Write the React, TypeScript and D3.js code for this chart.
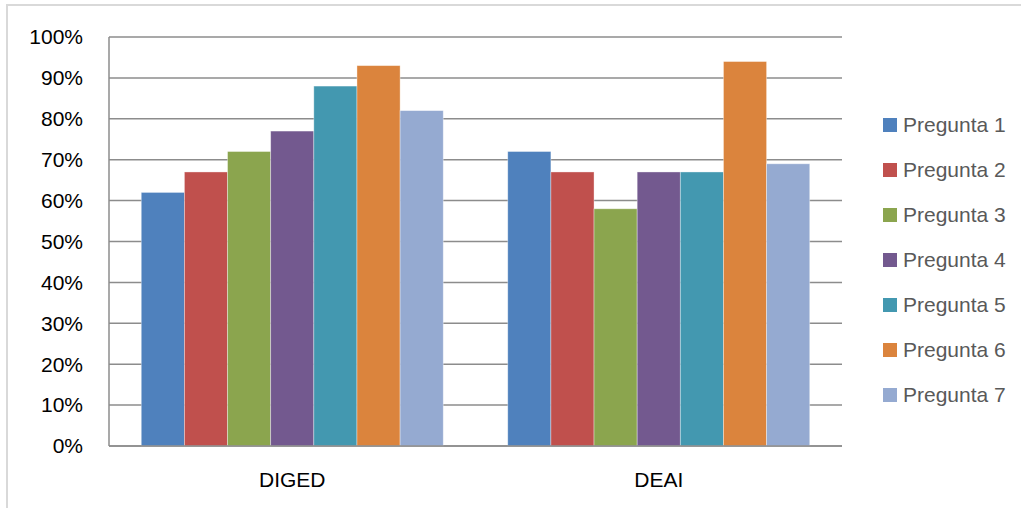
import React from "react";
import * as d3 from "d3";

const categories = ["DIGED", "DEAI"];
const seriesNames = ["Pregunta 1", "Pregunta 2", "Pregunta 3", "Pregunta 4", "Pregunta 5", "Pregunta 6", "Pregunta 7"];
const digedValues = [0.62, 0.67, 0.72, 0.77, 0.88, 0.93, 0.82];
const deaiValues = [0.72, 0.67, 0.58, 0.67, 0.67, 0.94, 0.69];
const yTicks = [0, 0.1, 0.2, 0.3, 0.4, 0.5, 0.6, 0.7, 0.8, 0.9, 1.0];
const colors = ["#4F81BD", "#C0504D", "#8BA54E", "#73598F", "#4398B0", "#DB843D", "#95AAD1"];

const W = 1021;
const H = 508;
const plot = { left: 109, right: 842, top: 37, bottom: 446 };
const FONT = "'Liberation Sans', Arial, sans-serif";

export default function App() {
  const valuesByCat: Record<string, number[]> = { DIGED: digedValues, DEAI: deaiValues };
  const x0 = d3.scaleBand<string>().domain(categories).range([plot.left, plot.right]).paddingInner(0.176).paddingOuter(0.088);
  const x1 = d3.scaleBand<string>().domain(seriesNames).range([0, x0.bandwidth()]).padding(0);
  const y = d3.scaleLinear().domain([0, 1]).range([plot.bottom, plot.top]);
  const fmt = d3.format(".0%");

  return (
    <svg width={W} height={H} style={{ position: "absolute", left: 0, top: 0, background: "#fff" }}>
      <rect x={7} y={5} width={W} height={H} fill="#fff" stroke="#d9d9d9" strokeWidth={2} />
      {yTicks.map((t) => (
        <line key={"g" + t} x1={plot.left} x2={plot.right} y1={y(t)} y2={y(t)} stroke="#8c8c8c" strokeWidth={1.5} />
      ))}
      {categories.map((c) => (
        <g key={c} transform={`translate(${x0(c)},0)`}>
          {seriesNames.map((s, i) => {
            const v = valuesByCat[c][i];
            return (
              <rect key={s} x={x1(s)} y={y(v)} width={x1.bandwidth()} height={y(0) - y(v)} fill={colors[i]} stroke="rgba(255,255,255,0.45)" strokeWidth={0.8} />
            );
          })}
        </g>
      ))}
      <line x1={plot.left} x2={plot.left} y1={plot.top} y2={plot.bottom} stroke="#8c8c8c" strokeWidth={1.5} />
      <line x1={plot.left} x2={plot.right} y1={plot.bottom} y2={plot.bottom} stroke="#8c8c8c" strokeWidth={1.5} />
      {yTicks.map((t) => (
        <text key={"t" + t} x={83} y={y(t)} dy="0.35em" textAnchor="end" fontFamily={FONT} fontSize={21} fill="#000">
          {fmt(t)}
        </text>
      ))}
      {categories.map((c) => (
        <text key={"c" + c} x={(x0(c) as number) + x0.bandwidth() / 2} y={480} dy="0.35em" textAnchor="middle" fontFamily={FONT} fontSize={21} fill="#000">
          {c}
        </text>
      ))}
      {seriesNames.map((s, i) => (
        <g key={"l" + s} transform={`translate(883,${125 + i * 45})`}>
          <rect x={0} y={-7} width={14} height={14} fill={colors[i]} />
          <text x={20} y={0} dy="0.35em" fontFamily={FONT} fontSize={21} fill="#595959">
            {s}
          </text>
        </g>
      ))}
    </svg>
  );
}
